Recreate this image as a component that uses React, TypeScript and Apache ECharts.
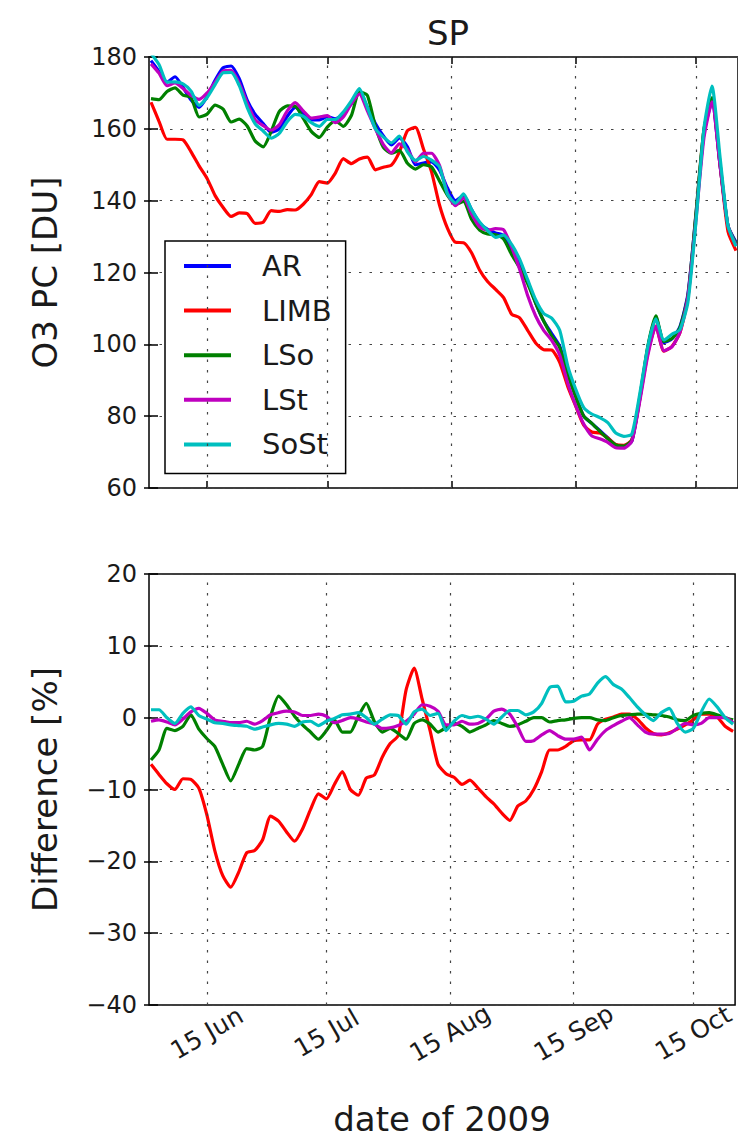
import React, { useEffect, useRef } from "react";
import * as echarts from "echarts";

// days since 1 June 2009
const days = [0,2,4,6,8,10,12,14,16,18,20,22,24,26,28,30,32,34,36,38,40,42,44,46,48,50,52,54,56,58,60,62,64,66,68,70,72,74,76,78,80,82,84,86,88,90,92,94,96,98,100,102,104,106,108,110,112,114,116,118,120,122,124,126,128,130,132,134,136,138,140,142,144,146];

const seriesNames = ["AR", "LIMB", "LSo", "LSt", "SoSt"];
const seriesColors = ["#0000ff", "#ff0000", "#008000", "#bf00bf", "#00bfbf"];

// O3 partial column [DU]
const pcAR = [179,176,173,174.5,171.5,168,166,169,173.5,177, 177.5,174,168,164,161.5,159,160,163.5,166,164.5, 162.5,162.5,163.4,162.8,164,167,170,166,161.5,158, 155.5,157.5,155,150,150.5,150.8,148.5,143.5,140,141.5, 137.5,133.8,132,131,130.3,126.5,122.5,117.5,111.5,106.5, 103,99.5,92,85.5,80,78,76,74,72,71.5, 73,85,99,107.5,100.5,101.5,104.9,114,136,158.8, 167.5,150,133,128.5];
const pcLIMB = [167.4,162.1,157.1,157.1,156.9,153.6,149.7,146.2,141.4,138.1, 135.6,136.6,136.4,133.7,134.0,137.2,137.0,137.5,137.4,139.0, 141.7,145.3,144.9,147.7,151.7,150.3,151.6,152.1,148.6,149.3, 149.9,153.6,159.5,160.4,154.4,148.1,138.8,132.3,128.4,128.3, 125.5,120.7,117.5,115.3,113.0,108.4,107.4,103.9,100.4,98.5, 98.4,95.0,88.3,82.8,77.5,75.6,75.3,73.9,72.1,71.9, 73.4,84.8,97.6,105.1,98.1,99.4,103.2,112.9,135.6,159.6, 168.3,150.2,131.4,126.1];
const pcLSo = [168.4,168.1,170.4,171.4,169.4,168.7,163.3,164.1,166.6,165.5, 161.9,162.7,160.8,156.6,155.0,159.3,164.8,166.4,166.3,162.9, 159.3,157.6,160.5,162.3,160.7,163.7,170.3,169.3,160.7,154.8, 153.2,154.0,150.4,148.8,150.0,149.4,145.5,141.5,138.9,139.8, 134.8,131.8,130.7,130.5,129.3,125.0,121.3,116.9,111.5,106.5, 102.4,99.1,91.7,85.4,80,78,75.8,73.7,72,71.7, 73.3,85.4,99.5,107.9,100.8,101.6,104.6,113.5,136.4,159.8, 168.7,150.6,133,128.1];
const pcLSt = [178.1,175.5,172.0,172.8,171.2,169.3,168.2,170.0,173.0,176.1, 176.3,172.8,167.2,162.5,160.9,159.6,161.1,165.0,167.3,165.0, 163.0,163.3,163.7,161.7,163.3,167,169.7,165.0,160.0,155.6, 153.3,155.8,154.2,150.8,153.2,153.2,149.8,142.1,138.6,140.8, 136.3,132.7,131.7,132.2,131.9,127.1,120.9,113.6,107.9,103.9, 101.1,97.0,89.2,82.9,77.8,74.5,73.7,72.7,71.2,71.1, 73,84.2,97.0,105.0,98.2,99.3,103.3,113.1,134.6,157.5, 167.5,150,133,127.6];
const pcSoSt = [181.0,177.9,173,173.1,172.5,170.5,166.5,168.7,172.3,175.6, 175.7,172.1,166,161.4,159.4,157.4,158.7,162.0,164.0,163.5, 161.7,160.7,162.6,162.6,164.7,167.8,171.2,166,160.0,157.7, 156.1,158.0,153.6,151.2,152.3,151.3,149.4,141.8,139.3,141.9, 137.5,134.1,131.7,129.8,130.4,127.8,123.7,118.0,112.4,108.6, 107.3,103.9,94.0,87.5,82.4,80.6,79.6,78.2,75.3,74.4, 75.0,86.3,99.4,107.1,101.2,102.8,104.1,111.7,134.0,160.1, 171.9,152.3,133,127.3];

// Difference to AR [%]
const diffLIMB = [-6.5,-7.9,-9.2,-10,-8.5,-8.6,-9.8,-13.5,-18.5,-22, -23.6,-21.5,-18.8,-18.5,-17,-13.7,-14.4,-15.9,-17.2,-15.5, -12.8,-10.6,-11.3,-9.3,-7.5,-10,-10.8,-8.4,-8,-5.5, -3.6,-2.5,3.9,6.9,2.6,-1.8,-6.5,-7.8,-8.3,-9.3, -8.7,-9.8,-11,-12,-13.3,-14.3,-12.3,-11.6,-10,-7.5, -4.5,-4.5,-4,-3.2,-3.1,-3.1,-0.9,-0.2,0.1,0.5, 0.5,-0.2,-1.4,-2.2,-2.4,-2.1,-1.6,-1,-0.3,0.5, 0.5,0.1,-1.2,-1.9];
const diffLSo = [-5.9,-4.5,-1.5,-1.8,-1.2,0.4,-1.6,-2.9,-4,-6.5, -8.8,-6.5,-4.3,-4.5,-4,0.2,3,1.8,0.2,-1, -2,-3,-1.8,-0.3,-2,-2,0.2,2,-0.5,-2, -1.5,-2.2,-3,-0.8,-0.3,-0.9,-2,-1.4,-0.8,-1.2, -2,-1.5,-1,-0.4,-0.8,-1.2,-1,-0.5,0,0, -0.6,-0.4,-0.3,-0.1,0,0,-0.3,-0.4,0,0.3, 0.4,0.5,0.5,0.4,0.3,0.1,-0.3,-0.4,0.3,0.6, 0.7,0.4,0,-0.3];
const diffLSt = [-0.5,-0.3,-0.6,-1,-0.2,0.8,1.3,0.6,-0.3,-0.5, -0.7,-0.7,-0.5,-0.9,-0.4,0.4,0.7,0.9,0.8,0.3, 0.3,0.5,0.2,-0.7,-0.4,0,-0.2,-0.6,-0.9,-1.5, -1.4,-1.1,-0.5,0.5,1.8,1.6,0.9,-1,-1,-0.5, -0.9,-0.8,-0.2,0.9,1.2,0.5,-1.3,-3.3,-3.2,-2.4, -1.8,-2.5,-3,-3,-2.7,-4.5,-3,-1.8,-1.1,-0.5, 0,-1,-2,-2.3,-2.3,-2.2,-1.5,-0.8,-1,-0.8, 0,0,0,-0.7];
const diffSoSt = [1.1,1.1,0,-0.8,0.6,1.5,0.3,-0.2,-0.7,-0.8, -1,-1.1,-1.2,-1.6,-1.3,-1,-0.8,-0.9,-1.2,-0.6, -0.5,-1.1,-0.5,-0.1,0.4,0.5,0.7,0,-0.9,-0.2, 0.4,0.3,-0.9,0.8,1.2,0.3,0.6,-1.8,-0.5,0.3, 0,0.2,-0.2,-0.9,0.1,1,1,0.4,0.8,2.0, 4.2,4.4,2.2,2.3,3.0,3.3,4.8,5.7,4.6,4.0, 2.8,1.5,0.4,-0.4,0.7,1.3,-0.8,-2,-1.5,0.8, 2.6,1.5,0,-0.9];

const tickDays = [14, 44, 75, 106, 136];
const tickLabels = ["15 Jun", "15 Jul", "15 Aug", "15 Sep", "15 Oct"];

const FONT = "DejaVu Sans";
const TXT = "#1a1a1a";
const X_MIN = -0.5;
const X_MAX = 146.5;

const minus = (v: number) => String(v).replace("-", "\u2212");

const tickStyle = { show: true, inside: true, length: 7, lineStyle: { color: "#000", width: 1.5 } };
const dotted = { color: "#444", width: 1.2, type: [2.5, 8] as any };

function xAxesFor(gridIndex: number, withLabels: boolean) {
  const main: any = {
    type: "value", gridIndex, position: "bottom", min: X_MIN, max: X_MAX,
    axisLine: { show: false },
    axisTick: { ...tickStyle, customValues: tickDays },
    splitLine: { show: false },
    axisLabel: { show: false },
  };
  if (withLabels) {
    main.axisLabel = {
      show: true, customValues: tickDays,
      formatter: (v: number) => { const i = tickDays.indexOf(v); return i >= 0 ? tickLabels[i] : ""; },
      rotate: 30, align: "center", verticalAlign: "middle", margin: 28,
      fontSize: 25, fontFamily: FONT, color: TXT,
    };
    main.name = "date of 2009";
    main.nameLocation = "middle";
    main.nameGap = 97;
    main.nameTextStyle = { fontSize: 34, fontFamily: FONT, color: TXT };
  }
  const top: any = {
    type: "value", gridIndex, position: "top", min: X_MIN, max: X_MAX,
    axisLine: { show: false },
    axisTick: { ...tickStyle, customValues: tickDays },
    axisLabel: { show: false }, splitLine: { show: false },
  };
  return [main, top];
}

function yAxesFor(gridIndex: number, min: number, max: number, interval: number, name: string) {
  return [
    {
      type: "value", gridIndex, position: "left", min, max, interval,
      axisLine: { show: false }, axisTick: tickStyle,
      axisLabel: { formatter: minus, fontSize: 24, fontFamily: FONT, color: TXT, margin: 12 },
      splitLine: { show: true, lineStyle: dotted },
      name, nameLocation: "middle", nameGap: 87, nameRotate: 90,
      nameTextStyle: { fontSize: 34, fontFamily: FONT, color: TXT },
    },
    {
      type: "value", gridIndex, position: "right", min, max, interval,
      axisLine: { show: false }, axisTick: tickStyle,
      axisLabel: { show: false }, splitLine: { show: false },
    },
  ];
}

function lineSeries(name: string, color: string, values: number[], xi: number, yi: number, z: number) {
  return {
    type: "line", name, xAxisIndex: xi, yAxisIndex: yi,
    data: days.map((d, i) => [d, values[i]]),
    showSymbol: false, symbol: "none", smooth: 0.2, z,
    lineStyle: { color, width: 3.2 }, itemStyle: { color },
    emphasis: { disabled: true },
  };
}

function gridMarks(xi: number, yi: number) {
  return {
    type: "line", xAxisIndex: xi, yAxisIndex: yi, data: [], z: 1, silent: true,
    markLine: {
      silent: true, symbol: ["none", "none"], label: { show: false },
      lineStyle: dotted, emphasis: { disabled: true },
      data: tickDays.map((d) => ({ xAxis: d })),
    },
  };
}

export default function App() {
  const ref = useRef<HTMLDivElement>(null);
  useEffect(() => {
    if (!ref.current) return;
    const chart = echarts.init(ref.current, undefined, { renderer: "svg" });
    const pcs = [pcAR, pcLIMB, pcLSo, pcLSt, pcSoSt];
    const diffs = [diffLIMB, diffLSo, diffLSt, diffSoSt];
    const option: any = {
      animation: false,
      backgroundColor: "#fff",
      title: {
        text: "SP", left: 443, top: 11, textAlign: "center",
        textStyle: { fontSize: 34, fontWeight: "normal", fontFamily: FONT, color: TXT },
      },
      legend: {
        data: seriesNames, orient: "vertical", left: 165, top: 241,
        padding: [10, 14, 14, 19], itemGap: 14.6, itemWidth: 47, itemHeight: 4, icon: "rect",
        borderColor: "#000", borderWidth: 1.5, backgroundColor: "#fff", selectedMode: false,
        textStyle: { fontSize: 29, fontFamily: FONT, color: TXT, padding: [0, 0, 0, 26], lineHeight: 30 },
      },
      grid: [
        { left: 149, top: 57, width: 589, height: 431, show: true, borderColor: "#000", borderWidth: 1.5 },
        { left: 149, top: 574, width: 589, height: 431, show: true, borderColor: "#000", borderWidth: 1.5 },
      ],
      xAxis: [...xAxesFor(0, false), ...xAxesFor(1, true)],
      yAxis: [...yAxesFor(0, 60, 180, 20, "O3 PC [DU]"), ...yAxesFor(1, -40, 20, 10, "Difference [%]")],
      series: [
        gridMarks(0, 0),
        gridMarks(2, 2),
        ...seriesNames.map((n, i) => lineSeries(n, seriesColors[i], pcs[i], 0, 0, 2 + i)),
        ...seriesNames.slice(1).map((n, i) => lineSeries(n, seriesColors[i + 1], diffs[i], 2, 2, 3 + i)),
      ],
    };
    chart.setOption(option);
    return () => chart.dispose();
  }, []);
  return (
    <div
      ref={ref}
      style={{ position: "absolute", left: 0, top: 0, width: 738, height: 1145, background: "#fff" }}
    />
  );
}
